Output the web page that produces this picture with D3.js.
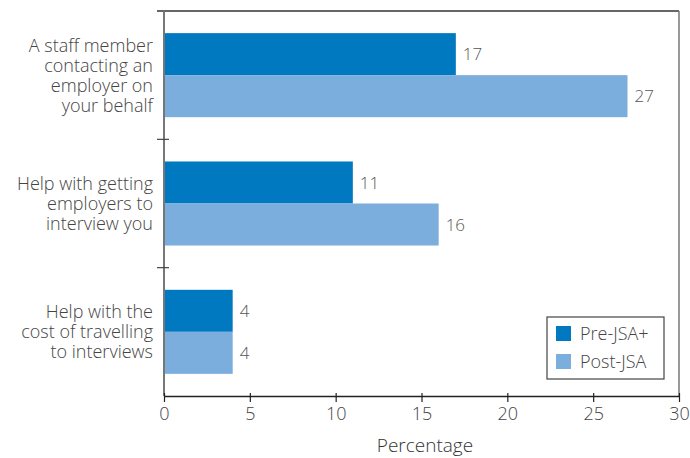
<!DOCTYPE html>
<html>
<head>
<meta charset="utf-8">
<script src="https://cdn.jsdelivr.net/npm/d3@7/dist/d3.min.js"></script>
<style>
  html, body { margin: 0; padding: 0; background: #fff; }
  svg { display: block; font-family: "Open Sans", "Noto Sans", sans-serif; font-weight: 300; }
</style>
</head>
<body>
<svg id="chart" width="690" height="458"></svg>
<script>
// Support types asked about, with lines of the wrapped category label
const categories = [
  ["A staff member", "contacting an", "employer on", "your behalf"],
  ["Help with getting", "employers to", "interview you"],
  ["Help with the", "cost of travelling", "to interviews"]
];
const seriesNames = ["Pre-JSA+", "Post-JSA"];
const preValues = [17, 11, 4];
const postValues = [27, 16, 4];
const xTicks = [0, 5, 10, 15, 20, 25, 30];
const xTitle = "Percentage";

(function () {
  const colors = ["#0079C1", "#7BAEDD"];
  const svg = d3.select("#chart");
  const plotL = 164, plotR = 679, plotT = 11, plotB = 396;

  const x = d3.scaleLinear().domain([0, 30]).range([plotL, plotR]);
  const y = d3.scaleBand().domain(d3.range(categories.length)).range([plotT, plotB])
    .paddingInner(0.345).paddingOuter(0.1725);
  const sub = d3.scaleBand().domain([0, 1]).range([0, y.bandwidth()]);

  // frame: top and right edges
  svg.append("line").attr("x1", plotL - 7).attr("x2", plotR).attr("y1", plotT).attr("y2", plotT)
    .attr("stroke", "#333").attr("stroke-width", 1.5);
  svg.append("line").attr("x1", plotR).attr("x2", plotR).attr("y1", plotT).attr("y2", plotB)
    .attr("stroke", "#777").attr("stroke-width", 1.5);

  // bars and value labels
  const series = [preValues, postValues];
  series.forEach((vals, si) => {
    svg.append("g").selectAll("rect").data(vals).join("rect")
      .attr("x", x(0))
      .attr("y", (d, i) => y(i) + sub(si))
      .attr("width", d => x(d) - x(0))
      .attr("height", sub.bandwidth())
      .attr("fill", colors[si]);
    svg.append("g").selectAll("text").data(vals).join("text")
      .attr("x", d => x(d) + 7)
      .attr("y", (d, i) => y(i) + sub(si) + sub.bandwidth() / 2)
      .attr("dy", "0.36em")
      .attr("font-size", 17)
      .attr("fill", "#555")
      .text(d => d);
  });

  // category axis with ticks at band boundaries
  const bounds = d3.range(categories.length + 1).map(i => plotT + i * y.step());
  const yAxis = svg.append("g");
  yAxis.append("line").attr("x1", plotL).attr("x2", plotL).attr("y1", plotT).attr("y2", plotB)
    .attr("stroke", "#777").attr("stroke-width", 2);
  yAxis.selectAll("line.tk").data(bounds.slice(1, -1)).join("line").attr("class", "tk")
    .attr("x1", plotL - 7).attr("x2", plotL + 5).attr("y1", d => d).attr("y2", d => d)
    .attr("stroke", "#444").attr("stroke-width", 1.2);

  categories.forEach((lines, i) => {
    const cy = y(i) + y.bandwidth() / 2;
    const lh = 20;
    const t = svg.append("text").attr("text-anchor", "end").attr("font-size", 18).attr("fill", "#444");
    lines.forEach((ln, j) => {
      t.append("tspan").attr("x", 153)
        .attr("y", cy + (j - (lines.length - 1) / 2) * lh)
        .attr("dy", "0.36em").text(ln);
    });
  });

  // value axis
  const xAxis = svg.append("g").attr("transform", `translate(0,${plotB})`)
    .call(d3.axisBottom(x).tickValues(xTicks).tickSizeInner(6).tickSizeOuter(0).tickPadding(5));
  xAxis.select(".domain").attr("stroke", "#222").attr("stroke-width", 1.5);
  xAxis.selectAll(".tick line").attr("y1", -3).attr("y2", 6).attr("stroke", "#222").attr("stroke-width", 1.2);
  xAxis.selectAll(".tick text").attr("font-size", 18).attr("fill", "#444")
    .attr("font-family", "'Open Sans', 'Noto Sans', sans-serif").attr("font-weight", 300);

  svg.append("text").attr("x", 425).attr("y", 452).attr("text-anchor", "middle")
    .attr("font-size", 19).attr("fill", "#333").text(xTitle);

  // legend
  const lg = svg.append("g").attr("transform", "translate(547,317)");
  lg.append("rect").attr("width", 117).attr("height", 62).attr("fill", "#fff")
    .attr("stroke", "#444").attr("stroke-width", 1.2);
  seriesNames.forEach((name, i) => {
    lg.append("rect").attr("x", 9).attr("y", 9 + i * 28).attr("width", 15).attr("height", 15)
      .attr("fill", colors[i]);
    lg.append("text").attr("x", 33).attr("y", 16.5 + i * 28).attr("dy", "0.36em")
      .attr("font-size", 18).attr("fill", "#444").text(name);
  });
})();
</script>
</body>
</html>
